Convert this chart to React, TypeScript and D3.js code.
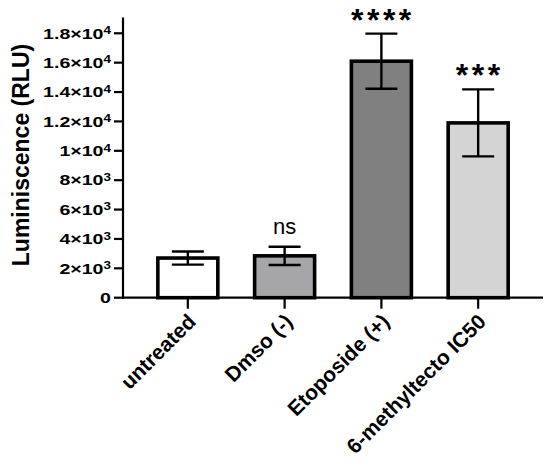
import { scaleLinear, scalePoint } from "d3";

const categories = ["untreated", "Dmso (-)", "Etoposide (+)", "6-methyltecto IC50"];
const means = [2700, 2850, 16100, 11900];
const errors = [450, 620, 1880, 2280];
const significance = ["", "ns", "****", "***"];
const fills = ["#ffffff", "#a6a6a9", "#808080", "#d4d4d4"];
const yTicks = [0, 2000, 4000, 6000, 8000, 10000, 12000, 14000, 16000, 18000];

const width = 550;
const height = 465;
const axisLeft = 123;
const axisRight = 543;
const axisBottom = 297.7;
const axisTop = 18.6;
const barWidth = 60;
const capWidth = 32;

function tickLabel(value: number): { mantissa: string; exponent: string } {
  if (value === 0) return { mantissa: "0", exponent: "" };
  const exponent = Math.floor(Math.log10(value));
  const mantissa = +(value / Math.pow(10, exponent)).toFixed(2);
  return { mantissa: `${mantissa}×10`, exponent: String(exponent) };
}

export default function App(): React.JSX.Element {
  const y = scaleLinear().domain([0, 19000]).range([axisBottom, axisTop]);
  const x = scalePoint<string>().domain(categories).range([axisLeft, axisRight]).padding(0.67);
  const font = "Arial, 'Liberation Sans', sans-serif";

  return (
    <svg
      width={width}
      height={height}
      viewBox={`0 0 ${width} ${height}`}
      style={{ position: "absolute", left: 0, top: 0, background: "#fff" }}
      fontFamily={font}
    >
      {/* bars */}
      {categories.map((cat, i) => {
        const cx = x(cat) ?? 0;
        return (
          <rect
            key={cat}
            x={cx - barWidth / 2}
            y={y(means[i])}
            width={barWidth}
            height={axisBottom - y(means[i])}
            fill={fills[i]}
            stroke="#000"
            strokeWidth={3.6}
          />
        );
      })}
      {/* error bars */}
      {categories.map((cat, i) => {
        const cx = x(cat) ?? 0;
        const top = y(means[i] + errors[i]);
        const bottom = y(means[i] - errors[i]);
        return (
          <g key={`${cat}-err`} stroke="#000" strokeWidth={2.4}>
            <line x1={cx} x2={cx} y1={top} y2={bottom} />
            <line x1={cx - capWidth / 2} x2={cx + capWidth / 2} y1={top} y2={top} />
            <line x1={cx - capWidth / 2} x2={cx + capWidth / 2} y1={bottom} y2={bottom} />
          </g>
        );
      })}
      {/* significance */}
      {categories.map((cat, i) => {
        const cx = x(cat) ?? 0;
        const top = y(means[i] + errors[i]);
        const label = significance[i];
        if (!label) return null;
        const stars = label.startsWith("*");
        return (
          <text
            key={`${cat}-sig`}
            x={cx + (stars ? 1.5 : 0)}
            y={stars ? top - 3 : top - 13}
            textAnchor="middle"
            fontSize={stars ? 32 : 22}
            fontWeight={stars ? "bold" : "normal"}
            letterSpacing={stars ? 3.5 : 0}
          >
            {label}
          </text>
        );
      })}
      {/* y axis */}
      <line x1={axisLeft} x2={axisLeft} y1={axisTop - 1} y2={axisBottom + 1} stroke="#000" strokeWidth={2.2} />
      {yTicks.map((t) => {
        const { mantissa, exponent } = tickLabel(t);
        return (
          <g key={t} transform={`translate(0,${y(t)})`}>
            <line x1={axisLeft - 9} x2={axisLeft} stroke="#000" strokeWidth={2.2} />
            <text
              transform={`translate(${axisLeft - 12},0) scale(1.35,1)`}
              dy="0.36em"
              textAnchor="end"
              fontSize={14.5}
              fontWeight="bold"
            >
              {mantissa}
              {exponent ? (
                <tspan dy="-0.45em" fontSize={10}>
                  {exponent}
                </tspan>
              ) : null}
            </text>
          </g>
        );
      })}
      <text
        transform={`translate(29,155) rotate(-90)`}
        textAnchor="middle"
        fontSize={23}
        fontWeight="bold"
      >
        Luminiscence (RLU)
      </text>
      {/* x axis */}
      <line x1={axisLeft - 1} x2={axisRight} y1={axisBottom} y2={axisBottom} stroke="#000" strokeWidth={2.2} />
      {categories.map((cat) => {
        const cx = x(cat) ?? 0;
        return (
          <g key={`${cat}-tick`}>
            <line x1={cx} x2={cx} y1={axisBottom} y2={axisBottom + 11} stroke="#000" strokeWidth={2.2} />
            <text
              transform={`translate(${cx + 4},${axisBottom + 20}) rotate(-45)`}
              textAnchor="end"
              fontSize={21}
              fontWeight="bold"
              dy="0.35em"
            >
              {cat}
            </text>
          </g>
        );
      })}
    </svg>
  );
}
